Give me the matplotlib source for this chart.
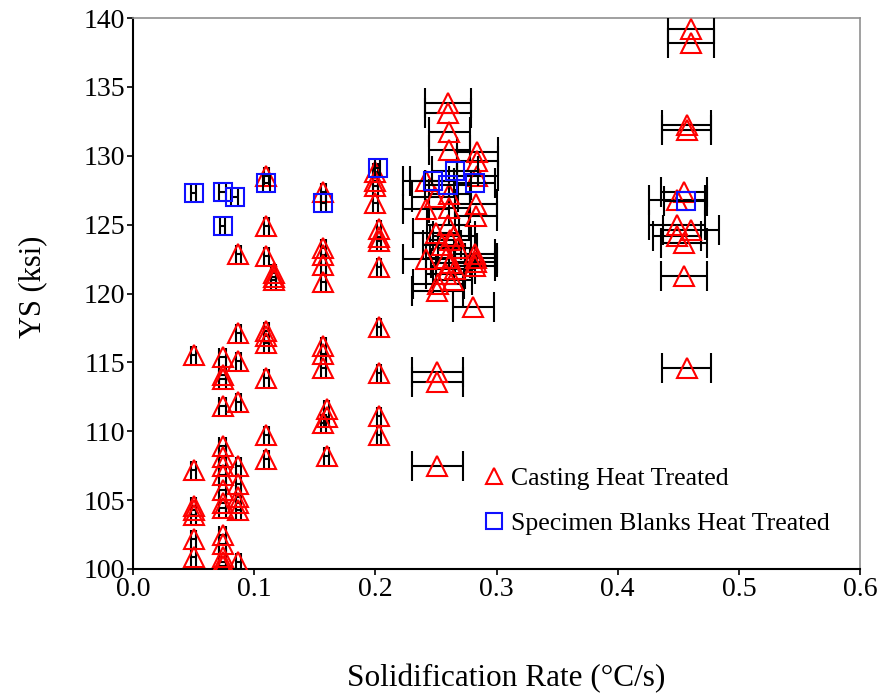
import matplotlib
matplotlib.use("Agg")
import matplotlib.pyplot as plt
import numpy as np
from matplotlib.lines import Line2D

# ---- data: Casting Heat Treated (triangles) ----
cast_x = [0.050]*7 + [0.074]*16 + [0.087]*10 + [0.110]*9 + [0.116]*3 + [0.157]*9 + [0.160]*3 \
    + [0.200]*4 + [0.203]*8 \
    + [0.260, 0.260, 0.261, 0.261, 0.284, 0.284, 0.284, 0.242, 0.249, 0.261, 0.242, 0.261,
       0.283, 0.283, 0.260, 0.250, 0.265, 0.262, 0.255, 0.268, 0.242, 0.282, 0.283, 0.283,
       0.282, 0.258, 0.262, 0.266, 0.258, 0.264, 0.252, 0.251, 0.281, 0.251, 0.251, 0.251] \
    + [0.4605, 0.4605, 0.457, 0.457, 0.455, 0.449, 0.449, 0.4605, 0.449, 0.455, 0.455, 0.457]
cast_y = [115.5, 107.2, 104.6, 104.3, 103.9, 102.2, 100.9] \
    + [115.4, 114.1, 113.8, 111.8, 108.9, 108.1, 107.5, 106.8, 105.7, 104.8, 104.4, 102.5,
       101.8, 100.9, 100.5, 100.2] \
    + [122.9, 117.1, 115.1, 112.1, 107.5, 106.2, 105.2, 104.8, 104.3, 100.5] \
    + [128.5, 124.9, 122.7, 117.3, 116.9, 116.4, 113.9, 109.7, 108.0] \
    + [121.5, 121.2, 121.0] \
    + [127.4, 123.3, 122.8, 122.1, 120.8, 116.2, 115.6, 114.6, 110.6] \
    + [111.6, 111.0, 108.2] \
    + [128.8, 128.2, 127.8, 126.6] \
    + [124.7, 124.1, 123.8, 121.9, 117.6, 114.2, 111.1, 109.7] \
    + [133.8, 133.1, 131.7, 130.4, 130.3, 129.6, 128.5, 128.2, 127.0, 127.2, 126.1, 126.2,
       126.5, 125.6, 125.0, 124.4, 124.2, 123.9, 123.5, 123.3, 122.5, 122.9, 122.6, 122.3,
       122.0, 122.6, 122.2, 121.8, 121.4, 121.0, 120.7, 120.2, 119.0, 114.3, 113.6, 107.5] \
    + [139.2, 138.2, 132.2, 131.9, 127.4, 126.8, 125.0, 124.6, 124.2, 123.7, 121.3, 114.6]
cast_xerr = [0.002]*7 + [0.003]*16 + [0.002]*10 + [0.002]*9 + [0.002]*3 + [0.002]*9 + [0.002]*3 \
    + [0.002]*4 + [0.002]*8 \
    + [0.019, 0.019, 0.017, 0.017, 0.017, 0.017, 0.017, 0.019, 0.019, 0.017, 0.019, 0.017,
       0.017, 0.017, 0.017, 0.019, 0.017, 0.017, 0.016, 0.016, 0.019, 0.017, 0.017, 0.017,
       0.017, 0.016, 0.016, 0.016, 0.016, 0.016, 0.021, 0.021, 0.017, 0.021, 0.021, 0.021] \
    + [0.019, 0.019, 0.020, 0.020, 0.019, 0.023, 0.023, 0.023, 0.020, 0.019, 0.019, 0.020]

# ---- data: Specimen Blanks Heat Treated (squares) ----
blank_x = [0.050, 0.074, 0.084, 0.074, 0.110, 0.157, 0.202, 0.248, 0.266, 0.260, 0.282, 0.456]
blank_y = [127.3, 127.4, 127.0, 124.9, 128.0, 126.6, 129.1, 128.2, 128.9, 127.9, 128.0, 126.7]
blank_xerr = [0.002, 0.003, 0.003, 0.002, 0.003, 0.002, 0.002, 0.019, 0.019, 0.019, 0.017, 0.018]

series_labels = ["Casting Heat Treated", "Specimen Blanks Heat Treated"]
x_ticks = [0.0, 0.1, 0.2, 0.3, 0.4, 0.5, 0.6]
y_ticks = [100, 105, 110, 115, 120, 125, 130, 135, 140]

plt.rcParams['font.family'] = ['Liberation Serif', 'DejaVu Serif']

fig = plt.figure(figsize=(8.85, 6.96), dpi=100)
ax = fig.add_axes([133/885, 1-569/696, (860-133)/885, (569-18)/696])


def draw(xs, ys, es, marker, ms, color, z):
    xs, ys, es = np.asarray(xs), np.asarray(ys), np.asarray(es)
    for mask, cap in [(es < 0.01, 6.5), (es >= 0.01, 11)]:
        if mask.any():
            ax.errorbar(xs[mask], ys[mask], xerr=es[mask], fmt='none', ecolor='black',
                        elinewidth=1.5, capsize=cap, capthick=1.5, zorder=z)
    ax.plot(xs, ys, ls='none', marker=marker, ms=ms, mfc='none', mec=color, mew=1.5,
            zorder=z + 0.5)


draw(cast_x, cast_y, cast_xerr, '^', 15, '#ff0000', 3)
draw(blank_x, blank_y, blank_xerr, 's', 13.5, '#1010ff', 4)

ax.set_xlim(0, 0.6)
ax.set_ylim(100, 140)
ax.set_xticks(x_ticks)
ax.set_xticklabels([f"{v:.1f}" for v in x_ticks])
ax.set_yticks(y_ticks)
ax.tick_params(axis='both', direction='out', length=4.5, width=1.2, labelsize=20, colors='black')
ax.tick_params(axis='x', pad=1.5)
ax.tick_params(axis='y', pad=1)

for s in ['left', 'bottom']:
    ax.spines[s].set_color('black')
    ax.spines[s].set_linewidth(1.5)
for s in ['top', 'right']:
    ax.spines[s].set_color('#909090')
    ax.spines[s].set_linewidth(1.2)

ax.set_xlabel("Solidification Rate (°C/s)", fontsize=22.5, labelpad=44, x=0.514)
ax.set_ylabel("YS (ksi)", fontsize=22, labelpad=26, y=0.513)

handles = [Line2D([], [], ls='none', marker='^', ms=11, mfc='none', mec='#ff0000', mew=1.5),
           Line2D([], [], ls='none', marker='s', ms=11, mfc='none', mec='#1010ff', mew=1.5)]
ax.legend(handles, series_labels, loc='lower left', bbox_to_anchor=(0.472, 0.043),
          frameon=False, fontsize=18.5, handlelength=0.6, handletextpad=0.35,
          labelspacing=0.85, borderaxespad=0)

fig.savefig("out.png", dpi=100)
